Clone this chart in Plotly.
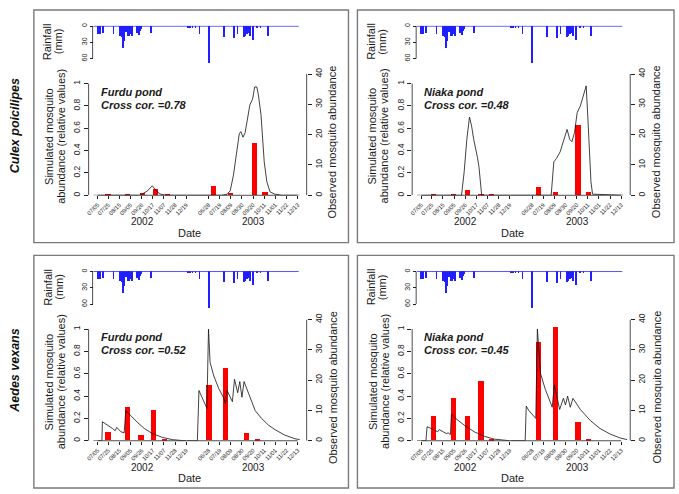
import datetime as dt
import plotly.graph_objects as go

W, H = 679, 494

# ---------------- data ----------------
TICKS_2002 = ["07/05", "07/25", "08/15", "09/05", "09/26", "10/17", "11/07", "11/28", "12/19"]
TICKS_2003 = ["06/28", "07/19", "08/09", "08/30", "09/20", "10/11", "11/01", "11/22", "12/13"]
YEARS = ["2002", "2003"]
GAP_DAYS = 42  # compressed gap between the two rainy seasons on the time axis

RAIN_DATES = ["2002-07-05", "2002-07-09", "2002-07-14", "2002-08-03", "2002-08-16", "2002-08-18",
              "2002-08-21", "2002-08-24", "2002-08-27", "2002-08-31", "2002-09-02", "2002-09-05",
              "2002-09-07", "2002-09-17", "2002-09-20", "2002-09-22", "2002-09-25", "2002-10-13",
              "2003-05-19", "2003-05-24", "2003-05-28", "2003-06-03", "2003-06-10", "2003-06-28",
              "2003-07-27", "2003-08-14", "2003-08-21", "2003-09-02", "2003-09-05", "2003-09-08",
              "2003-09-11", "2003-09-14", "2003-09-19", "2003-09-27", "2003-10-03", "2003-10-18"]
RAIN_MM = [15, 15, 13, 14, 17, 20, 40, 28, 10, 18, 17, 14, 18, 12, 16, 8, 5, 12,
           2, 2, 2, 2, 15, 67, 20, 21, 15, 20, 17, 15, 12, 18, 25, 3, 2, 17]
RAIN_PERIOD = ["2002-06-27", "2003-12-15"]

FURDU_CULEX_SIM_D = ["2002-06-27", "2002-09-22", "2002-09-27", "2002-10-07", "2002-10-16", "2002-10-20",
                     "2002-10-25", "2002-11-01", "2002-11-10", "2002-12-19",
                     "2003-05-19", "2003-07-23", "2003-08-02", "2003-08-08", "2003-08-14", "2003-08-21",
                     "2003-08-25", "2003-08-28", "2003-09-01", "2003-09-05", "2003-09-10", "2003-09-14",
                     "2003-09-19", "2003-09-23", "2003-09-27", "2003-09-30", "2003-10-05", "2003-10-08",
                     "2003-10-11", "2003-10-16", "2003-10-22", "2003-10-31", "2003-11-13", "2003-12-17"]
FURDU_CULEX_SIM = [0, 0, 0.01, 0.04, 0.085, 0.06, 0.03, 0.01, 0, 0,
                   0, 0, 0.01, 0.04, 0.18, 0.40, 0.55, 0.57, 0.52, 0.56, 0.72, 0.81,
                   0.86, 0.97, 0.97, 0.90, 0.72, 0.50, 0.30, 0.12, 0.03, 0.01, 0, 0]

NIAKA_CULEX_SIM_D = ["2002-06-27", "2002-09-19", "2002-09-24", "2002-09-29", "2002-10-04", "2002-10-08",
                     "2002-10-12", "2002-10-16", "2002-10-19", "2002-10-22", "2002-10-25", "2002-10-27",
                     "2002-12-19",
                     "2003-05-19", "2003-08-03", "2003-08-08", "2003-08-13", "2003-08-20", "2003-08-28",
                     "2003-09-02", "2003-09-07", "2003-09-11", "2003-09-16", "2003-09-21", "2003-09-27",
                     "2003-10-03", "2003-10-08", "2003-10-11", "2003-10-14", "2003-10-17", "2003-10-20",
                     "2003-12-17"]
NIAKA_CULEX_SIM = [0, 0, 0.21, 0.50, 0.70, 0.62, 0.50, 0.42, 0.34, 0.25, 0.10, 0, 0,
                   0, 0, 0.30, 0.33, 0.39, 0.52, 0.59, 0.50, 0.48, 0.56, 0.74, 0.80,
                   0.89, 0.98, 0.71, 0.36, 0.12, 0.01, 0]

FURDU_AEDES_SIM_D = ["2002-06-27", "2002-07-13", "2002-07-14", "2002-07-24", "2002-08-02", "2002-08-07",
                     "2002-08-10", "2002-08-18", "2002-08-24", "2002-08-27", "2002-09-06", "2002-09-19",
                     "2002-10-01", "2002-10-16", "2002-11-04", "2002-11-23", "2002-12-11", "2002-12-19",
                     "2003-05-19", "2003-06-07", "2003-06-10", "2003-06-13", "2003-06-22", "2003-06-25",
                     "2003-06-28", "2003-07-01", "2003-07-08", "2003-07-17", "2003-07-27", "2003-07-30",
                     "2003-08-02", "2003-08-12", "2003-08-16", "2003-08-22", "2003-08-26", "2003-08-30",
                     "2003-09-03", "2003-09-11", "2003-09-24", "2003-10-06", "2003-10-19", "2003-10-31",
                     "2003-11-19", "2003-12-08", "2003-12-17"]
FURDU_AEDES_SIM = [0, 0, 0.17, 0.14, 0.11, 0.09, 0.12, 0.08, 0.07, 0.27, 0.22, 0.16,
                   0.11, 0.065, 0.03, 0.01, 0.002, 0,
                   0, 0, 0.45, 0.42, 0.32, 0.29, 1.0, 0.70, 0.58, 0.47, 0.38, 0.33,
                   0.45, 0.35, 0.55, 0.43, 0.53, 0.39, 0.53, 0.43, 0.27, 0.20, 0.14, 0.10,
                   0.05, 0.018, 0.01]

NIAKA_AEDES_SIM_D = ["2002-06-27", "2002-07-14", "2002-07-16", "2002-07-24", "2002-08-05", "2002-08-08",
                     "2002-08-21", "2002-08-25", "2002-08-29", "2002-08-31", "2002-09-08", "2002-09-24",
                     "2002-10-13", "2002-11-01", "2002-11-19", "2002-12-08", "2002-12-19",
                     "2003-05-19", "2003-06-15", "2003-06-17", "2003-06-22", "2003-07-05", "2003-07-08",
                     "2003-07-14", "2003-07-23", "2003-08-05", "2003-08-09", "2003-08-19", "2003-08-26",
                     "2003-08-30", "2003-09-03", "2003-09-08", "2003-09-13", "2003-09-27", "2003-10-16",
                     "2003-11-03", "2003-11-22", "2003-12-11", "2003-12-24"]
NIAKA_AEDES_SIM = [0, 0, 0.125, 0.11, 0.08, 0.10, 0.065, 0.07, 0.055, 0.24, 0.20, 0.14,
                   0.08, 0.04, 0.015, 0.005, 0,
                   0, 0, 0.31, 0.27, 0.20, 1.0, 0.60, 0.46, 0.30, 0.50, 0.28, 0.38,
                   0.32, 0.40, 0.30, 0.38, 0.28, 0.18, 0.11, 0.06, 0.025, 0.01]

FURDU_CULEX_OBS_D = ["2002-07-24", "2002-08-30", "2002-09-27", "2002-10-22", "2002-11-13",
                     "2003-07-07", "2003-08-08", "2003-09-22", "2003-10-12"]
FURDU_CULEX_OBS = [0.2, 0.2, 0.9, 2.0, 0.2, 3.0, 0.9, 17.1, 1.1]
FURDU_AEDES_OBS_D = ["2002-07-24", "2002-08-30", "2002-09-24", "2002-10-17", "2002-11-07",
                     "2003-06-28", "2003-07-29", "2003-09-07", "2003-09-27"]
FURDU_AEDES_OBS = [2.8, 11.0, 1.7, 9.9, 0.1, 18.2, 23.7, 2.5, 0.3]
NIAKA_OBS_D = ["2002-07-29", "2002-09-04", "2002-10-01", "2002-10-26", "2002-11-15",
               "2003-07-11", "2003-08-12", "2003-09-23", "2003-10-13"]
NIAKA_CULEX_OBS = [0.5, 0.2, 1.6, 0.4, 0.1, 2.6, 1.0, 23.3, 1.1]
NIAKA_AEDES_OBS = [7.9, 14.1, 7.9, 19.4, 0.1, 32.3, 37.2, 6.0, 0.2]

SPECIES = ["Culex poicilipes", "Aedes vexans"]
PANELS = [
    dict(pond="Furdu pond", cc="0.78", sim_d=FURDU_CULEX_SIM_D, sim=FURDU_CULEX_SIM,
         obs_d=FURDU_CULEX_OBS_D, obs=FURDU_CULEX_OBS),
    dict(pond="Niaka pond", cc="0.48", sim_d=NIAKA_CULEX_SIM_D, sim=NIAKA_CULEX_SIM,
         obs_d=NIAKA_OBS_D, obs=NIAKA_CULEX_OBS),
    dict(pond="Furdu pond", cc="0.52", sim_d=FURDU_AEDES_SIM_D, sim=FURDU_AEDES_SIM,
         obs_d=FURDU_AEDES_OBS_D, obs=FURDU_AEDES_OBS),
    dict(pond="Niaka pond", cc="0.45", sim_d=NIAKA_AEDES_SIM_D, sim=NIAKA_AEDES_SIM,
         obs_d=NIAKA_OBS_D, obs=NIAKA_AEDES_OBS),
]

SIM_TICKS = [0, 0.2, 0.4, 0.6, 0.8, 1]
OBS_TICKS = [0, 10, 20, 30, 40]
RAIN_TICKS = [0, 30, 60]

# ---------------- helpers ----------------
D0_2002 = dt.date(2002, 7, 5)
D0_2003 = dt.date(2003, 6, 28)
END_2002 = dt.date(2002, 12, 19)


def pos(s):
    d = dt.date.fromisoformat(s)
    if d.year == 2002:
        return (d - D0_2002).days
    return (d - D0_2003).days + (END_2002 - D0_2002).days + GAP_DAYS


def split_years(dates, vals):
    xs, ys = [], []
    prev = None
    for d, v in zip(dates, vals):
        if prev is not None and d[:4] != prev:
            xs.append(None)
            ys.append(None)
        xs.append(pos(d))
        ys.append(v)
        prev = d[:4]
    return xs, ys


def fx(p):
    return p / W


def fy(p):
    return 1 - p / H


def axkey(kind, n):
    return f"{kind}axis" if n == 1 else f"{kind}axis{n}"


def ref(kind, n):
    return kind if n == 1 else f"{kind}{n}"


tick_dates = ["2002-" + t.replace("/", "-") for t in TICKS_2002] + \
             ["2003-" + t.replace("/", "-") for t in TICKS_2003]
tick_pos = [pos(d) for d in tick_dates]
tick_text = TICKS_2002 + TICKS_2003

# geometry (pixels, top-left panel frame)
COLS = [0, 325]
ROWS = [0, 249]
BOX_X = [(31, 347), (356, 674)]
BOX_Y = [(4, 240), (253, 489)]
PLOT_L, PLOT_R = 86, 305
MAIN_T, MAIN_B = 69, 192
RAIN_T, RAIN_B = 20, 57.7
RAIN_AX = 90
XRANGE = [-17, 394]
SIM_MAX = 1.086
RAIN_MAX = 68

RED = "#ff0000"
BLUE = "#1f1fff"
FONT = "Liberation Sans, Arial, sans-serif"
TXT = "#1a1a1a"

fig = go.Figure()
layout = dict(width=W, height=H, margin=dict(l=0, r=0, t=0, b=0), autosize=False,
              paper_bgcolor="white", plot_bgcolor="white", showlegend=False,
              font=dict(family=FONT, color=TXT, size=10), bargap=0)
shapes, annots = [], []

for i, p in enumerate(PANELS):
    ox = COLS[i % 2]
    oy = ROWS[i // 2]
    b = 4 * i
    mx, my_obs, my_sim, rx, ry = b + 1, b + 1, b + 2, b + 3, b + 3

    xdom = [fx(PLOT_L + ox), fx(PLOT_R + ox)]
    layout[axkey("x", mx)] = dict(domain=xdom, range=XRANGE, anchor=ref("y", my_obs),
                                  tickvals=tick_pos, ticktext=tick_text, tickangle=-45,
                                  tickfont=dict(size=5.8, color=TXT), ticks="outside", ticklen=3,
                                  tickwidth=0.8, tickcolor="#222", showgrid=False, zeroline=False,
                                  showline=False)
    layout[axkey("y", my_obs)] = dict(domain=[fy(MAIN_B + oy), fy(MAIN_T + oy)], range=[0, 40],
                                      anchor=ref("x", mx), side="right", tickvals=OBS_TICKS,
                                      tickangle=-90, tickfont=dict(size=8.5, color=TXT),
                                      ticks="outside", ticklen=4, tickwidth=0.8, tickcolor="#222",
                                      showgrid=False, zeroline=False, showline=False)
    layout[axkey("y", my_sim)] = dict(overlaying=ref("y", my_obs), range=[0, SIM_MAX],
                                      anchor=ref("x", mx), side="left", tickvals=SIM_TICKS,
                                      ticktext=[f"{v:g}" for v in SIM_TICKS],
                                      tickangle=-90, tickfont=dict(size=8.5, color=TXT),
                                      ticks="outside", ticklen=4, tickwidth=0.8, tickcolor="#222",
                                      showgrid=False, zeroline=False, showline=False)
    layout[axkey("x", rx)] = dict(domain=xdom, range=XRANGE, anchor=ref("y", ry), visible=False)
    layout[axkey("y", ry)] = dict(domain=[fy(RAIN_B + oy), fy(RAIN_T + oy)], range=[RAIN_MAX, -0.6],
                                  anchor="free", position=fx(RAIN_AX + ox), tickvals=RAIN_TICKS,
                                  tickangle=-90, tickfont=dict(size=7, color=TXT), ticks="outside",
                                  ticklen=3, tickwidth=0.8, tickcolor="#222", showgrid=False,
                                  zeroline=False, showline=False)

    fig.add_trace(go.Bar(x=[pos(d) for d in RAIN_DATES], y=RAIN_MM, width=1.3,
                         marker=dict(color=BLUE, line=dict(width=0)),
                         xaxis=ref("x", rx), yaxis=ref("y", ry)))
    fig.add_trace(go.Scatter(x=[pos(RAIN_PERIOD[0]), pos(RAIN_PERIOD[1])], y=[0, 0], mode="lines",
                             line=dict(color=BLUE, width=1), xaxis=ref("x", rx), yaxis=ref("y", ry)))
    fig.add_trace(go.Bar(x=[pos(d) for d in p["obs_d"]], y=p["obs"], width=10,
                         marker=dict(color=RED, line=dict(width=0)),
                         xaxis=ref("x", mx), yaxis=ref("y", my_obs)))
    sx, sy = split_years(p["sim_d"], p["sim"])
    fig.add_trace(go.Scatter(x=sx, y=sy, mode="lines", line=dict(color="#111", width=0.8),
                             connectgaps=False, xaxis=ref("x", mx), yaxis=ref("y", my_sim)))

    ln = dict(color="#222", width=0.8)
    shapes.append(dict(type="line", xref="paper", yref=ref("y", my_sim),
                       x0=fx(PLOT_L + ox), x1=fx(PLOT_L + ox), y0=SIM_TICKS[0], y1=SIM_TICKS[-1], line=ln))
    shapes.append(dict(type="line", xref="paper", yref=ref("y", my_obs),
                       x0=fx(PLOT_R + ox), x1=fx(PLOT_R + ox), y0=OBS_TICKS[0], y1=OBS_TICKS[-1], line=ln))
    shapes.append(dict(type="line", xref=ref("x", mx), yref="paper",
                       x0=tick_pos[0], x1=tick_pos[-1], y0=fy(MAIN_B + oy), y1=fy(MAIN_B + oy), line=ln))
    shapes.append(dict(type="line", xref="paper", yref=ref("y", ry),
                       x0=fx(RAIN_AX + ox), x1=fx(RAIN_AX + ox), y0=RAIN_TICKS[0], y1=RAIN_TICKS[-1], line=ln))
    bx = BOX_X[i % 2]
    by = BOX_Y[i // 2]
    shapes.append(dict(type="rect", xref="paper", yref="paper", x0=fx(bx[0]), x1=fx(bx[1]),
                       y0=fy(by[1]), y1=fy(by[0]), line=dict(color="#7a7a7a", width=1.4)))

    def ann(text, x, y, size=11, angle=0, xanchor="center"):
        annots.append(dict(text=text, x=fx(x + ox), y=fy(y + oy), xref="paper", yref="paper",
                           showarrow=False, textangle=angle, xanchor=xanchor, yanchor="middle",
                           font=dict(size=size, family=FONT, color=TXT)))

    ann("<b><i>" + p["pond"] + "</i></b>", 96, 87, size=11, xanchor="left")
    ann("<b><i>Cross cor. =" + p["cc"] + "</i></b>", 96, 100, size=11, xanchor="left")
    ann("Rainfall", 45, 36, size=11, angle=-90)
    ann("(mm)", 56, 36, size=11, angle=-90)
    ann("Simulated mosquito", 46, 132, size=11, angle=-90)
    ann("abundance (relative values)", 58, 132, size=11, angle=-90)
    ann("Observed mosquito abundance", 331, 138, size=11, angle=-90)
    ann(YEARS[0], 140, 219, size=10)
    ann(YEARS[1], 252, 219, size=10)
    ann("Date", 187, 230, size=11)

for k, sp in enumerate(SPECIES):
    annots.append(dict(text="<b><i>" + sp + "</i></b>", x=fx(12), y=fy(121 + ROWS[k]),
                       xref="paper", yref="paper", showarrow=False, textangle=-90,
                       xanchor="center", yanchor="middle",
                       font=dict(size=12.5, family=FONT, color="#111")))

layout["shapes"] = shapes
layout["annotations"] = annots
fig.update_layout(**layout)
fig.write_html("out.html", config={"displayModeBar": False},
               post_script="document.body.style.margin='0px';")
